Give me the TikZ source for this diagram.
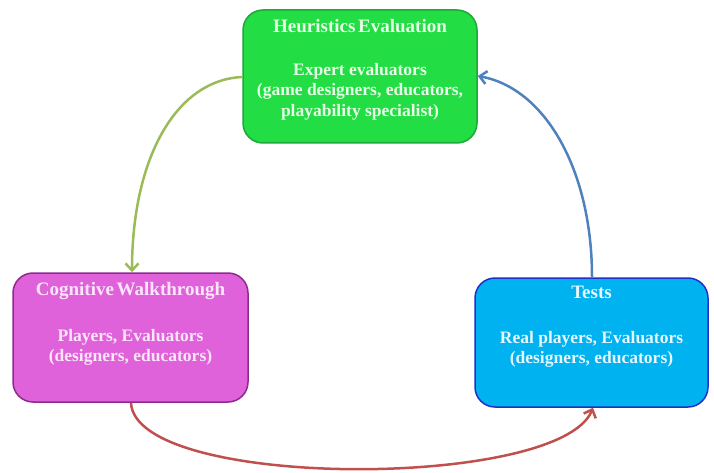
\documentclass[tikz,border=0pt]{standalone}
\usepackage{fontspec}
\setmainfont{Liberation Serif}
\usetikzlibrary{arrows.meta}
\definecolor{gfill}{HTML}{22DD44}
\definecolor{gdraw}{HTML}{1FA83A}
\definecolor{gtext}{HTML}{E6FFE6}
\definecolor{mfill}{HTML}{E062DA}
\definecolor{mdraw}{HTML}{8E2A8E}
\definecolor{mtext}{HTML}{FBE6FA}
\definecolor{bfill}{HTML}{00B2F0}
\definecolor{bdraw}{HTML}{2030C8}
\definecolor{btext}{HTML}{E6F6FF}
\definecolor{agreen}{HTML}{9BBB59}
\definecolor{ablue}{HTML}{4F81BD}
\definecolor{ared}{HTML}{C0504D}
\tikzset{
  boxnode/.style={rounded corners=20pt, line width=1.5pt, inner sep=0pt},
  titletext/.style={font=\fontsize{19}{22}\selectfont\bfseries, anchor=base, inner sep=0pt},
  bodytext/.style={font=\fontsize{17.5}{20.5}\selectfont\bfseries, align=center, anchor=north, inner sep=0pt},
  conn/.style={line width=2.5pt, -{Straight Barb[length=7pt,width=13pt,line width=2.5pt]}}
}
\begin{document}
\begin{tikzpicture}[x=1pt,y=-1pt]
\useasboundingbox (0,0) rectangle (714,473);
% boxes
\node[boxnode, fill=gfill, draw=gdraw, minimum width=234pt, minimum height=133pt] (heur) at (360,76.5) {};
\node[boxnode, fill=mfill, draw=mdraw, minimum width=235pt, minimum height=129pt] (cog) at (130.5,337.5) {};
\node[boxnode, fill=bfill, draw=bdraw, minimum width=233pt, minimum height=129pt] (tests) at (591.5,342.5) {};
% texts
\node[titletext, text=gtext] (heurT) at (360,33) {Heuristics\hspace{-2pt} Evaluation};
\node[bodytext, text=gtext] (heurB) at (360,63) {Expert evaluators\\(game designers, educators,\\playability specialist)};
\node[titletext, text=mtext] (cogT) at (130.5,295) {Cognitive\hspace{-2pt} Walkthrough};
\node[bodytext, text=mtext] (cogB) at (130.5,329) {Players, Evaluators\\(designers, educators)};
\node[titletext, text=btext] (testsT) at (591.5,298) {Tests};
\node[bodytext, text=btext] (testsB) at (591.5,331) {Real players, Evaluators\\(designers, educators)};
% connectors
\draw[conn, agreen] ([yshift=-0.5pt]heur.west) .. controls (175,80) and (132,160) .. ([xshift=1.5pt]cog.north);
\draw[conn, ablue] ([xshift=0.5pt]tests.north) .. controls (592,170) and (545,88) .. ([yshift=0.5pt]heur.east);
\draw[conn, ared] ([xshift=0.5pt]cog.south) .. controls (135,490) and (560,490) .. ([xshift=1.5pt]tests.south);
\end{tikzpicture}
\end{document}
